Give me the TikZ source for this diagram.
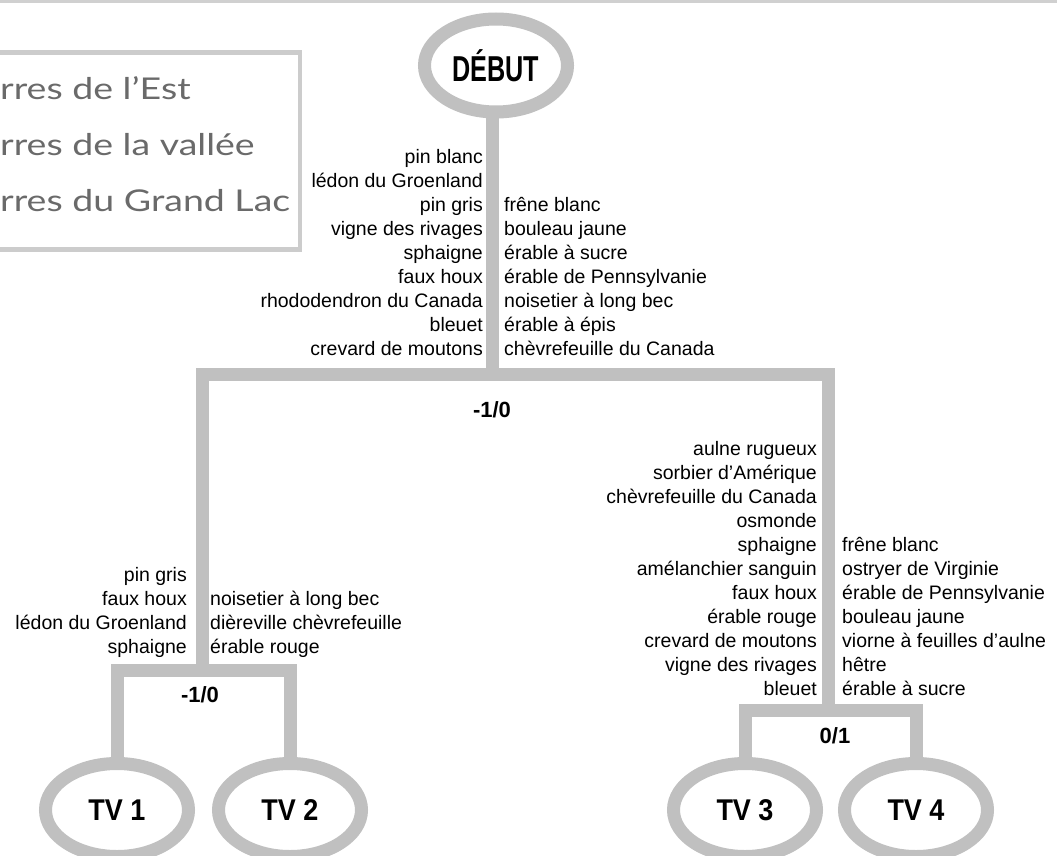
\documentclass[tikz,border=0pt]{standalone}
\usepackage{fontspec}
\setmainfont{Liberation Sans}
\newfontfamily\legendfont[FakeStretch=1.25]{Lato}
\newfontfamily\debutfont[FakeStretch=0.7]{Liberation Sans}
\newfontfamily\tvfont[FakeStretch=0.9]{Liberation Sans}
\usetikzlibrary{shapes.geometric, positioning}
\definecolor{limbgray}{HTML}{C0C0C0}
\definecolor{boxgray}{HTML}{CCCCCC}
\definecolor{rulegray}{HTML}{D0D0D0}
\definecolor{legendtext}{HTML}{6A6A6A}
\tikzset{
    ring/.style={ellipse, draw=limbgray, line width=13pt, minimum width=143pt, minimum height=93pt, inner sep=0pt, font=\tvfont\bfseries\fontsize{30}{34}\selectfont},
    limb/.style={draw=limbgray, line width=13pt, line join=miter},
    lst/.style={font=\fontsize{19.5}{24}\selectfont, inner sep=0pt},
    score/.style={font=\fontsize{22}{26}\selectfont\bfseries, inner sep=0pt},
    legend/.style={font=\legendfont\fontsize{30}{34}\selectfont, text=legendtext, inner sep=0pt}
}

\begin{document}
\begin{tikzpicture}[x=1pt, y=-1pt]
    \useasboundingbox (0,0) rectangle (1057,856);
    \clip (0,0) rectangle (1057,856);
    \fill[white] (0,0) rectangle (1057,856);
    % top rule and legend box
    \draw[rulegray, line width=3.5pt] (0,1.5) -- (1057,1.5);
    \draw[boxgray, line width=4.5pt] (-10,52.5) rectangle (300,249.5);
    \foreach \t [count=\i] in {rres de l’Est, rres de la vallée, rres du Grand Lac}
        \node[legend, anchor=base west] (leg\i) at (0,{100+55.5*(\i-1)}) {\t};

    % start and end nodes
    \node[ring, font=\debutfont\bfseries\fontsize{36}{40}\selectfont] (debut) at (496,65.5) {DÉBUT};
    \node[ring] (tv1) at (117,810) {TV 1};
    \node[ring] (tv2) at (290,810) {TV 2};
    \node[ring] (tv3) at (745,810) {TV 3};
    \node[ring] (tv4) at (916,810) {TV 4};

    % junctions
    \coordinate (j0) at (492,374);
    \coordinate (jl) at (202,374);
    \coordinate (jr) at (828,374);
    \coordinate (kl) at (202,670);
    \coordinate (kr) at (828,710);

    \draw[limb] (debut.south -| j0) -- (j0);
    \draw[limb] (kl) -- (jl) -- (jr) -- (kr);
    \draw[limb] (tv1.north) -- (tv1.north |- kl) -- (tv2.north |- kl) -- (tv2.north);
    \draw[limb] (tv3.north) -- (tv3.north |- kr) -- (tv4.north |- kr) -- (tv4.north);

    \node[score] (s0) at (492,410) {-1/0};
    \node[score] (sl) at (200,695) {-1/0};
    \node[score] (sr) at (835,736) {0/1};

    % species lists
    \foreach \t [count=\i] in {pin blanc, lédon du Groenland, pin gris, vigne des rivages, sphaigne, faux houx, rhododendron du Canada, bleuet, crevard de moutons}
        \node[lst, anchor=base east] (tl\i) at (483,{163+24*(\i-1)}) {\t};
    \foreach \t [count=\i] in {frêne blanc, bouleau jaune, érable à sucre, érable de Pennsylvanie, noisetier à long bec, érable à épis, chèvrefeuille du Canada}
        \node[lst, anchor=base west] (tr\i) at (504,{211+24*(\i-1)}) {\t};
    \foreach \t [count=\i] in {pin gris, faux houx, lédon du Groenland, sphaigne}
        \node[lst, anchor=base east] (ll\i) at (187,{581+24*(\i-1)}) {\t};
    \foreach \t [count=\i] in {noisetier à long bec, dièreville chèvrefeuille, érable rouge}
        \node[lst, anchor=base west] (lr\i) at (210,{605+24*(\i-1)}) {\t};
    \foreach \t [count=\i] in {aulne rugueux, sorbier d’Amérique, chèvrefeuille du Canada, osmonde, sphaigne, amélanchier sanguin, faux houx, érable rouge, crevard de moutons, vigne des rivages, bleuet}
        \node[lst, anchor=base east] (rl\i) at (817,{455+24*(\i-1)}) {\t};
    \foreach \t [count=\i] in {frêne blanc, ostryer de Virginie, érable de Pennsylvanie, bouleau jaune, viorne à feuilles d’aulne, hêtre, érable à sucre}
        \node[lst, anchor=base west] (rr\i) at (842,{551+24*(\i-1)}) {\t};
\end{tikzpicture}
\end{document}
